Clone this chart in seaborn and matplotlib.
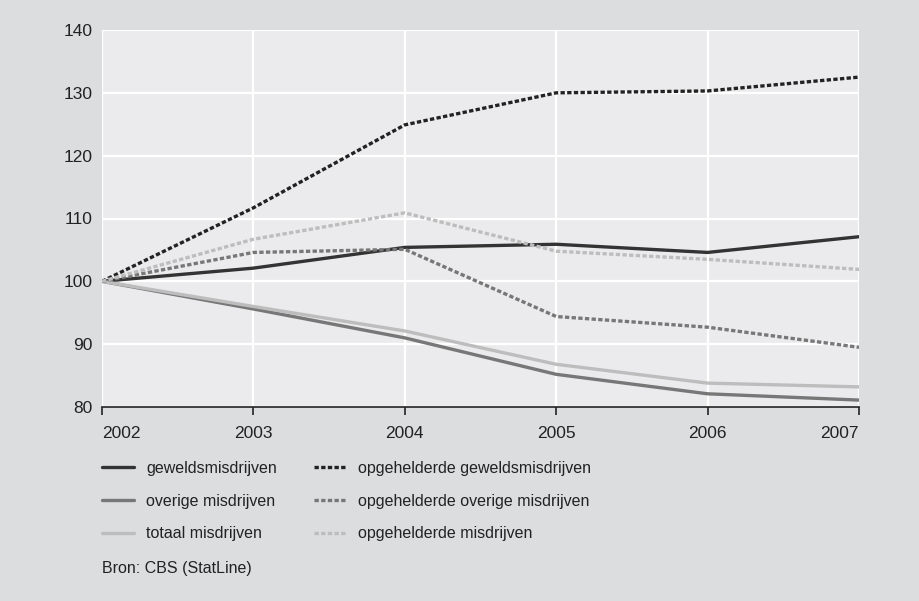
import numpy as np
import pandas as pd
import matplotlib
matplotlib.use("Agg")
import matplotlib.pyplot as plt
import seaborn as sns

years = [2002, 2003, 2004, 2005, 2006, 2007]

geweld = [100, 102.1, 105.4, 105.9, 104.6, 107.1]
overige = [100, 95.6, 91.0, 85.2, 82.1, 81.1]
totaal = [100, 96.0, 92.1, 86.8, 83.8, 83.2]
opg_geweld = [100, 111.7, 124.9, 130.0, 130.3, 132.5]
opg_overige = [100, 104.6, 105.1, 94.4, 92.7, 89.5]
opg_totaal = [100, 106.7, 110.9, 104.8, 103.5, 101.9]

labels = ["geweldsmisdrijven", "overige misdrijven", "totaal misdrijven",
          "opgehelderde geweldsmisdrijven", "opgehelderde overige misdrijven",
          "opgehelderde misdrijven"]
series = [geweld, overige, totaal, opg_geweld, opg_overige, opg_totaal]
colors = ["#333333", "#777777", "#bdbdbd", "#222222", "#777777", "#bdbdbd"]
dashed = [False, False, False, True, True, True]

sns.set_style("darkgrid")
plt.rcParams["font.family"] = ["Liberation Sans", "DejaVu Sans"]

fig = plt.figure(figsize=(9.19, 6.01), dpi=100, facecolor="#dcdddf")
ax = fig.add_axes([102 / 919, 1 - 407 / 601, 757 / 919, 377 / 601])
ax.set_facecolor("#ebebed")

for lab, vals, col, d in zip(labels, series, colors, dashed):
    df = pd.DataFrame({"jaar": years, "index": vals})
    sns.lineplot(data=df, x="jaar", y="index", ax=ax, color=col, lw=2.4,
                 label=lab, legend=False)
    if d:
        ax.lines[-1].set_dashes((1.3, 0.7))

ax.set_xlim(2002, 2007)
ax.set_ylim(80, 140)
ax.set_yticks(range(80, 141, 10))
ax.set_xticks(years)
ax.grid(True, color="white", lw=1.6)
ax.set_xlabel("")
ax.set_ylabel("")
for s in ["top", "right", "left"]:
    ax.spines[s].set_visible(False)
ax.spines["bottom"].set_visible(True)
ax.spines["bottom"].set_color("#222222")
ax.spines["bottom"].set_linewidth(1.2)
ax.tick_params(axis="x", length=6, width=1.2, color="#222222", bottom=True,
               labelsize=12.5, labelcolor="#222222", pad=8)
ax.tick_params(axis="y", length=0, labelsize=12.5, labelcolor="#222222", pad=7)
xl = ax.get_xticklabels()
xl[0].set_ha("left")
xl[-1].set_ha("right")

# legend in two separate columns so each can sit where the reference has it
handles, labs = ax.get_legend_handles_labels()
leg_kw = dict(loc="upper left", frameon=False, fontsize=11.5, handlelength=2.0,
              handletextpad=0.75, labelspacing=1.1, borderpad=0,
              borderaxespad=0, labelcolor="#222222")
fig.legend(handles[:3], labs[:3], bbox_to_anchor=(102 / 919, 1 - 461 / 601), **leg_kw)
fig.legend(handles[3:], labs[3:], bbox_to_anchor=(314 / 919, 1 - 461 / 601), **leg_kw)

fig.text(102 / 919, 1 - 568 / 601, "Bron: CBS (StatLine)", fontsize=11.5,
         color="#222222", va="center", ha="left")

fig.savefig("out.png", dpi=100, facecolor=fig.get_facecolor())
